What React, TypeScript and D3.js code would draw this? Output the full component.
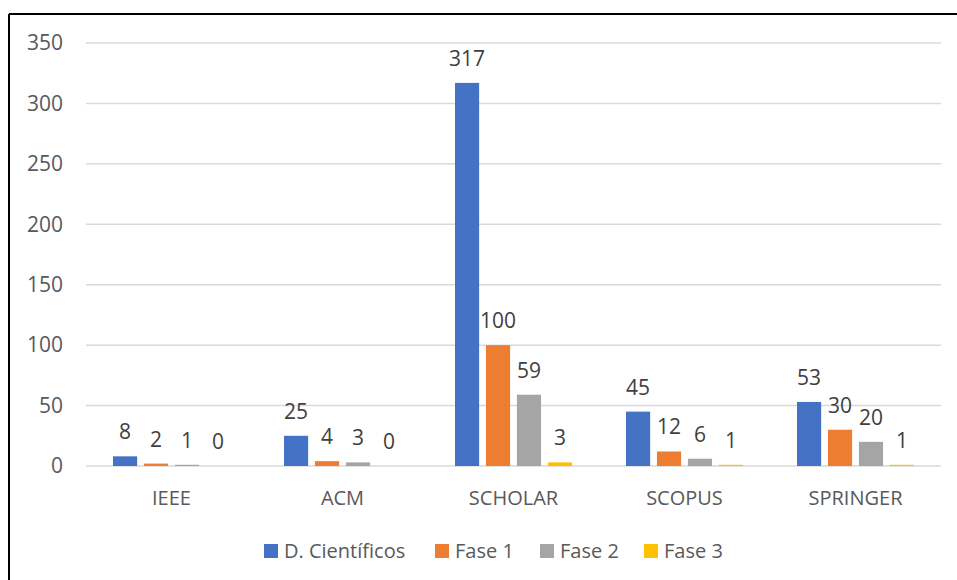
import React from "react";
import * as d3 from "d3";

const categories = ["IEEE", "ACM", "SCHOLAR", "SCOPUS", "SPRINGER"];
const seriesNames = ["D. Científicos", "Fase 1", "Fase 2", "Fase 3"];
const seriesColors = ["#4472C4", "#ED7D31", "#A5A5A5", "#FFC000"];
const dCientificos = [8, 25, 317, 45, 53];
const fase1 = [2, 4, 100, 12, 30];
const fase2 = [1, 3, 59, 6, 20];
const fase3 = [0, 0, 3, 1, 1];
const yTicks = [0, 50, 100, 150, 200, 250, 300, 350];

const seriesValues = [dCientificos, fase1, fase2, fase3];

const W = 957;
const H = 580;
const FONT = "'Open Sans', 'Noto Sans', sans-serif";
const TXT = "#595959";

export default function App() {
  const plotLeft = 86;
  const plotRight = 941;
  const plotTop = 43;
  const plotBottom = 466;

  const x0 = d3.scaleBand<string>().domain(categories).range([plotLeft, plotRight]).paddingInner(0).paddingOuter(0);
  const groupPad = 27;
  const x1 = d3
    .scaleBand<string>()
    .domain(seriesNames)
    .range([groupPad, x0.bandwidth() - groupPad])
    .paddingInner(0.22)
    .paddingOuter(0);
  const y = d3.scaleLinear().domain([0, 350]).range([plotBottom, plotTop]);

  const legendY = 551;
  const legendX = [264, 435, 540, 644];

  return (
    <svg
      width={W}
      height={H}
      style={{ position: "absolute", left: 0, top: 0, background: "#fff" }}
      fontFamily={FONT}
    >
      <rect x={0} y={0} width={W} height={H} fill="#fff" />
      <line x1={9} y1={14} x2={W + 2} y2={14} stroke="#000" strokeWidth={2} />
      <line x1={9} y1={14} x2={9} y2={H + 2} stroke="#000" strokeWidth={2} />

      {yTicks.map((t) => (
        <g key={t}>
          <line
            x1={plotLeft}
            x2={plotRight}
            y1={y(t)}
            y2={y(t)}
            stroke="#D9D9D9"
            strokeWidth={1.5}
          />
          <text
            x={63}
            y={y(t)}
            dy="0.35em"
            textAnchor="end"
            fontSize={21}
            fill={TXT}
          >
            {t}
          </text>
        </g>
      ))}

      {categories.map((c, ci) => (
        <g key={c} transform={`translate(${x0(c)},0)`}>
          {seriesNames.map((s, si) => {
            const v = seriesValues[si][ci];
            const bx = x1(s)!;
            const by = y(v);
            return (
              <g key={s}>
                <rect
                  x={bx}
                  y={by}
                  width={x1.bandwidth()}
                  height={Math.max(0, plotBottom - by)}
                  fill={seriesColors[si]}
                />
                <text
                  x={bx + x1.bandwidth() / 2}
                  y={by - 17}
                  textAnchor="middle"
                  fontSize={21}
                  fill="#404040"
                >
                  {v}
                </text>
              </g>
            );
          })}
          <text
            x={x0.bandwidth() / 2}
            y={505}
            textAnchor="middle"
            fontSize={20}
            fill={TXT}
          >
            {c}
          </text>
        </g>
      ))}

      {seriesNames.map((s, i) => (
        <g key={s} transform={`translate(${legendX[i]},${legendY})`}>
          <rect x={0} y={-7} width={14} height={14} fill={seriesColors[i]} />
          <text x={20} y={0} dy="0.35em" fontSize={20} fill={TXT}>
            {s}
          </text>
        </g>
      ))}
    </svg>
  );
}
